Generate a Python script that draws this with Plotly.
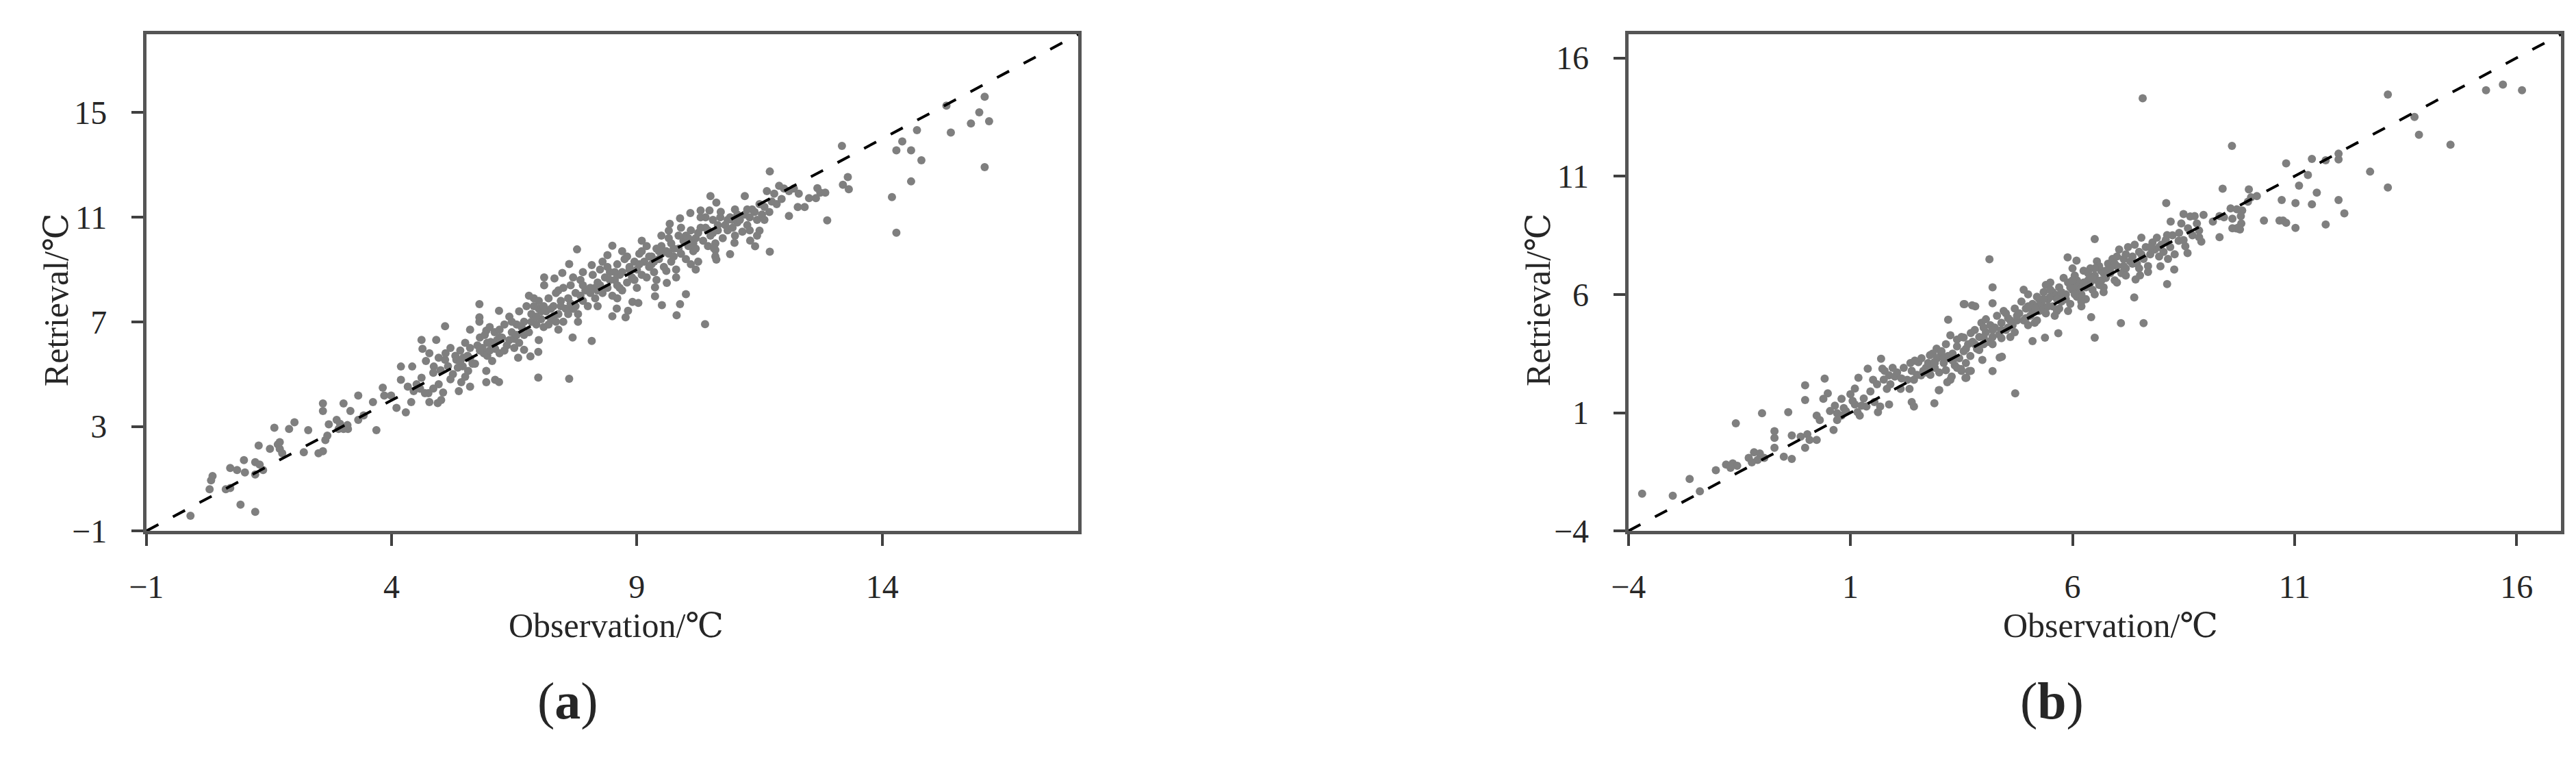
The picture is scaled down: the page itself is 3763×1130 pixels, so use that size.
import plotly.graph_objects as go

# ---------------- data ----------------
# Panel (a): observation vs retrieval, degC
a_low = [
    (-0.10, -0.42), (0.92, 0.01), (1.22, -0.27), (0.32, 0.94), (0.29, 0.60), (0.35, 1.10),
    (0.62, 0.60), (0.71, 0.64), (0.71, 1.41), (0.85, 1.33), (1.01, 1.24), (0.99, 1.71),
    (1.22, 1.63), (1.31, 1.54), (1.38, 1.33), (1.22, 1.16), (1.29, 2.27),
    (1.52, 2.14), (1.68, 2.31), (1.72, 2.14), (1.77, 1.97), (1.72, 2.40), (1.61, 2.95),
    (1.91, 2.90), (2.02, 3.16), (2.30, 2.86), (2.21, 2.01), (2.51, 1.97), (2.60, 2.05),
    (2.65, 2.48), (2.69, 2.65), (2.60, 3.88), (2.60, 3.59), (2.72, 3.08), (2.88, 3.25),
    (2.92, 2.90), (3.02, 2.90), (3.11, 2.90), (2.95, 3.10), (3.10, 3.05), (3.02, 3.88),
    (3.16, 3.59), (3.32, 4.18), (3.32, 3.25), (3.62, 3.93), (3.43, 3.42), (3.69, 2.86),
    (3.82, 4.48), (3.85, 4.18), (3.99, 4.18), (4.10, 3.71), (4.29, 3.54), (4.19, 5.29),
    (4.42, 5.29),
]
a_mid = [
    (4.19, 4.78), (4.33, 4.52), (4.51, 4.61), (4.61, 4.86), (4.75, 4.27), (4.40, 3.93),
    (4.77, 3.93), (4.96, 4.61), (5.01, 4.01), (4.68, 4.27), (4.58, 4.44), (4.45, 4.35),
    (4.85, 4.45), (5.05, 4.30), (4.61, 6.31), (4.63, 5.97), (4.91, 6.31), (4.77, 5.80),
    (4.96, 5.63), (5.09, 5.55), (4.86, 5.29), (4.70, 5.50), (4.85, 5.05), (5.00, 5.15),
    (5.09, 6.83), (5.32, 5.55), (5.46, 5.63), (5.56, 5.12), (5.42, 4.69), (5.37, 4.35),
    (5.60, 4.52), (5.25, 5.00), (5.50, 4.90), (5.35, 5.25), (5.79, 7.68), (5.79, 7.17),
    (5.79, 7.00), (5.60, 6.70), (5.93, 6.66), (6.02, 6.23), (6.11, 5.97), (5.88, 5.80),
    (5.93, 5.12), (5.93, 4.69), (6.11, 4.78), (5.75, 6.10), (5.70, 5.40), (6.05, 5.50),
    (6.19, 7.42), (4.94, 3.89), (6.19, 4.70), (5.10, 5.80), (5.15, 5.30), (5.20, 6.00),
    (5.30, 5.70), (5.40, 5.90), (5.45, 5.30), (5.50, 6.20), (5.55, 5.70), (5.60, 6.00),
    (5.65, 5.40), (5.20, 4.80), (5.80, 6.40), (5.85, 6.00), (5.90, 6.50), (5.95, 5.70),
    (6.00, 6.80), (6.05, 6.10), (6.10, 6.60), (6.15, 6.30), (6.20, 5.80), (5.95, 6.20),
    (5.40, 5.50), (5.60, 5.60), (5.80, 5.90), (6.00, 5.90), (6.20, 6.40), (6.40, 6.30),
]
a_band = [
    (6.25, 6.4), (6.30, 6.9), (6.35, 6.1), (6.40, 7.2), (6.45, 6.6), (6.50, 6.0),
    (6.55, 6.9), (6.60, 7.4), (6.30, 5.9), (6.50, 6.35), (6.20, 6.7), (6.60, 6.2),
    (6.70, 7.0), (6.75, 7.6), (6.80, 6.6), (6.85, 7.3), (6.90, 7.9), (6.95, 6.9),
    (7.00, 7.5), (7.05, 7.1), (6.70, 6.5), (6.90, 7.6), (7.10, 6.8), (6.80, 8.0), (7.00, 7.8),
    (7.15, 7.4), (7.20, 7.9), (7.25, 7.1), (7.30, 7.6), (7.35, 8.1), (7.40, 7.3),
    (7.45, 7.8), (7.50, 7.0), (7.55, 7.5), (7.20, 6.9), (7.40, 8.2), (7.30, 7.2),
    (7.60, 7.9), (7.65, 8.4), (7.70, 7.5), (7.75, 8.1), (7.80, 7.3), (7.85, 8.6),
    (7.90, 7.8), (7.95, 8.2), (8.00, 7.6), (7.70, 8.7), (7.90, 8.4), (7.60, 7.3),
    (8.05, 8.3), (8.10, 8.8), (8.15, 7.9), (8.20, 8.5), (8.25, 9.0), (8.30, 8.1),
    (8.35, 8.7), (8.40, 8.3), (8.45, 8.9), (8.50, 8.0), (8.20, 8.2), (8.40, 9.1),
    (8.55, 8.6), (8.60, 9.2), (8.65, 8.3), (8.70, 8.9), (8.75, 9.4), (8.80, 8.5),
    (8.85, 9.0), (8.90, 8.7), (8.95, 9.3), (8.60, 8.4), (8.80, 9.5), (8.70, 8.2),
    (9.00, 9.0), (9.05, 9.6), (9.10, 8.8), (9.15, 9.3), (9.20, 9.9), (9.25, 9.1),
    (9.30, 9.5), (9.35, 8.9), (9.40, 9.8), (9.10, 10.1), (9.20, 8.7), (9.30, 9.2),
    (9.45, 9.4), (9.50, 9.9), (9.55, 9.1), (9.60, 9.7), (9.65, 10.2), (9.70, 9.3),
    (9.75, 9.8), (9.80, 9.0), (9.85, 10.3), (9.50, 9.6), (9.70, 10.0), (9.60, 8.95),
    (9.90, 9.6), (9.95, 10.1), (10.00, 9.4), (10.05, 9.9), (10.10, 10.5), (10.15, 9.7),
    (10.20, 10.2), (10.25, 9.3), (10.30, 10.6), (10.00, 10.3), (10.20, 9.8), (10.10, 9.2),
    (10.35, 10.1), (10.40, 10.6), (10.45, 9.9), (10.50, 10.3), (10.55, 10.9), (10.60, 10.0),
    (10.65, 10.5), (10.70, 11.0), (10.75, 10.2), (10.80, 10.7), (10.40, 11.0), (10.60, 9.75),
    (10.85, 10.5), (10.90, 11.0), (10.95, 10.6), (11.00, 11.3), (11.05, 10.8), (11.10, 10.9),
    (11.15, 10.45), (11.20, 11.1), (11.25, 10.7), (11.30, 11.0), (11.35, 11.3), (11.40, 11.2),
    (11.45, 10.9), (11.50, 11.5), (11.55, 11.1), (11.60, 11.4), (11.65, 12.0), (11.70, 11.2),
    (11.75, 11.6), (11.80, 11.9), (11.85, 11.5), (11.90, 12.2), (11.95, 11.7), (11.60, 10.9),
    (11.30, 10.5), (11.45, 10.3), (11.00, 10.3),
]
a_core = [
    (6.45, 7.0), (6.65, 6.8), (6.85, 7.0), (7.05, 7.4), (7.25, 7.5), (7.45, 7.6),
    (7.65, 7.7), (7.85, 8.0), (8.05, 8.1), (8.25, 8.4), (8.45, 8.6), (8.65, 8.8),
    (8.85, 9.1), (9.05, 9.2), (9.25, 9.5), (9.45, 9.7), (9.65, 9.6), (9.85, 9.8),
    (10.05, 10.2), (10.25, 10.4), (10.45, 10.5), (10.65, 10.7), (10.85, 10.9), (11.05, 11.1),
    (11.25, 11.3), (6.55, 6.5), (6.95, 7.2), (7.35, 7.0), (7.75, 7.6), (8.15, 8.3),
    (8.55, 8.9), (8.95, 8.6), (9.35, 9.3), (9.75, 9.5), (10.15, 10.0), (10.55, 10.4),
    (10.95, 10.9), (7.10, 7.6), (7.50, 8.3), (7.90, 8.9), (8.30, 9.3), (8.70, 9.7),
    (9.10, 9.7), (9.50, 10.3), (9.90, 10.6), (10.30, 11.0), (7.00, 6.3), (7.40, 6.7),
    (7.80, 7.0), (8.20, 7.6), (8.60, 7.9), (9.00, 8.3), (9.40, 8.6), (9.80, 8.7),
    (10.20, 9.0), (10.60, 9.5),
]
a_spread = [
    (6.99, 4.87), (7.62, 4.82), (7.69, 6.40), (8.08, 6.27), (6.70, 5.93), (6.83, 5.68),
    (6.99, 5.85), (6.58, 5.63), (7.11, 8.70), (7.32, 8.66), (7.11, 8.40), (7.48, 8.87),
    (7.62, 9.21), (7.78, 9.77), (8.08, 9.17), (8.40, 9.55), (8.50, 9.91), (8.50, 7.21),
    (8.59, 7.51), (8.82, 7.42), (8.77, 7.17), (8.91, 7.76), (9.03, 7.72), (9.51, 7.64),
    (9.37, 7.98), (9.37, 8.32), (9.61, 8.49), (9.81, 7.25), (9.88, 7.68), (10.00, 8.06),
    (10.39, 6.91), (9.88, 10.96), (10.09, 11.16), (10.30, 11.26), (10.48, 11.26), (10.50, 11.81),
    (10.62, 11.56), (10.71, 11.21), (11.20, 11.81), (11.50, 10.49), (11.71, 9.68), (11.41, 9.89),
    (11.31, 10.11), (10.99, 10.02), (10.90, 9.59), (10.62, 9.38), (10.57, 9.81), (9.65, 10.49),
    (9.67, 10.75),
]
a_high = [
    (11.71, 12.75), (12.00, 12.10), (12.20, 12.10), (12.30, 11.90), (12.10, 12.00),
    (12.10, 11.05), (12.28, 11.39), (12.42, 11.39), (12.51, 11.73), (12.68, 12.11), (12.74, 11.94),
    (12.84, 11.94), (12.65, 11.73), (12.88, 10.88), (13.18, 13.73), (13.20, 12.24), (13.30, 12.54),
    (13.32, 12.07), (14.20, 11.77), (14.29, 10.41), (14.59, 12.37), (14.29, 13.56), (14.41, 13.90),
    (14.59, 13.56), (14.80, 13.18), (14.71, 14.33), (15.31, 15.27), (15.40, 14.24), (15.81, 14.59),
    (15.98, 15.01), (16.18, 14.67), (16.09, 15.61), (16.09, 12.92),
]

# Panel (b)
b_low = [
    (-3.69, -2.42), (-3.00, -2.51), (-2.62, -1.80), (-2.39, -2.32), (-2.03, -1.43),
    (-1.80, -1.19), (-1.65, -1.14), (-1.55, -1.24), (-1.70, -1.33), (-1.58, 0.55),
    (-1.29, -0.91), (-1.17, -0.67), (-1.04, -0.72), (-1.09, -1.00), (-0.94, -0.91), (-1.22, -1.10),
    (-0.99, 0.98), (-0.71, 0.22), (-0.71, -0.06), (-0.71, -0.48), (-0.50, -0.86), (-0.32, -0.95),
    (-0.40, 1.02), (-0.32, 0.04), (-0.12, -0.01), (0.03, 0.09), (0.08, -0.15), (-0.02, -0.48),
    (0.24, -0.15), (-0.02, 2.16), (-0.02, 1.54), (0.42, 2.44), (0.24, 0.88), (0.31, 0.69),
    (0.49, 1.82), (0.39, 1.59), (0.62, 0.27), (0.54, 1.07), (0.70, 0.98), (0.80, 0.88),
    (0.70, 0.69), (0.90, 1.07), (0.80, 1.59), (1.00, 1.78), (1.10, 1.35), (1.16, 1.02),
    (1.21, 0.88), (1.36, 1.26), (1.62, 1.02), (1.67, 1.26), (1.18, 2.48), (1.10, 2.02),
    (1.39, 2.86), (1.69, 3.28), (1.51, 2.39), (1.72, 2.86), (1.87, 2.58), (2.00, 2.53),
    (1.82, 2.01), (1.54, 1.45), (1.87, 1.35), (1.77, 2.77), (2.38, 1.45), (2.43, 1.26),
    (2.89, 1.40), (2.99, 1.95), (2.13, 2.01), (2.28, 2.39), (2.38, 2.77), (2.53, 3.14),
    (2.64, 2.77), (2.79, 2.86), (2.79, 3.43), (2.94, 3.71), (3.15, 3.90), (3.25, 4.27),
    (3.40, 4.09), (3.55, 4.18), (3.71, 4.37), (3.86, 3.81), (2.43, 2.39), (2.33, 2.01),
    (2.59, 2.58), (2.89, 3.14), (3.04, 3.52), (3.20, 4.93), (3.55, 5.59), (3.81, 5.50),
    (3.74, 5.54), (3.25, 2.39), (3.50, 2.77), (3.61, 2.48), (3.71, 2.77),
    (1.25, 1.3), (1.30, 1.6), (1.45, 1.9), (1.60, 2.2), (1.75, 2.4), (1.90, 2.2),
    (2.05, 2.7), (2.20, 2.9), (2.35, 3.1), (2.50, 2.6), (2.60, 3.3), (2.70, 2.9),
    (1.95, 2.9), (2.15, 2.45), (2.45, 3.2), (0.65, 1.3), (0.85, 1.2), (1.05, 1.5),
]
b_band = [
    (2.75, 3.1), (2.80, 2.6), (2.85, 3.5), (2.90, 2.9), (2.95, 3.3), (3.00, 2.7),
    (3.05, 3.6), (3.10, 3.1), (3.15, 2.8), (3.20, 3.4), (3.30, 3.5), (3.35, 3.0),
    (3.40, 3.8), (3.45, 3.3), (3.50, 4.2), (3.55, 3.6), (3.60, 3.1), (3.65, 3.9),
    (3.70, 3.4), (3.40, 2.9), (3.75, 4.0), (3.80, 4.5), (3.85, 3.7), (3.90, 4.2),
    (3.95, 4.8), (4.00, 3.9), (4.05, 4.4), (4.10, 4.0), (4.15, 4.7), (4.20, 4.2),
    (3.90, 3.65), (4.05, 4.95), (4.25, 4.6), (4.30, 5.1), (4.35, 4.3), (4.40, 4.8),
    (4.45, 5.3), (4.50, 4.5), (4.55, 5.0), (4.60, 4.2), (4.65, 4.7), (4.70, 5.4),
    (4.75, 4.9), (4.40, 4.15), (4.80, 5.2), (4.85, 5.7), (4.90, 4.9), (4.95, 5.4),
    (5.00, 6.0), (5.05, 5.1), (5.10, 5.6), (5.15, 4.8), (5.20, 5.9), (5.25, 5.3),
    (4.90, 6.2), (5.00, 4.7), (5.10, 5.3), (5.20, 5.5), (5.30, 5.6), (5.35, 6.1),
    (5.40, 5.2), (5.45, 5.8), (5.50, 6.5), (5.55, 5.5), (5.60, 6.0), (5.65, 5.3),
    (5.70, 6.3), (5.75, 5.7), (5.80, 6.7), (5.40, 6.4), (5.60, 5.1), (5.50, 5.9),
    (5.70, 5.9), (5.35, 5.4), (5.85, 6.0), (5.90, 6.5), (5.95, 5.6), (6.00, 6.2),
    (6.05, 6.8), (6.10, 5.9), (6.15, 6.4), (6.20, 5.5), (6.25, 7.0), (6.30, 6.3),
    (5.90, 5.3), (6.00, 7.1), (6.10, 6.6), (6.20, 6.0), (6.30, 5.8), (6.05, 6.35),
    (6.35, 6.6), (6.40, 7.1), (6.45, 6.2), (6.50, 6.8), (6.55, 7.4), (6.60, 6.4),
    (6.65, 7.0), (6.70, 6.1), (6.75, 6.7), (6.80, 7.3), (6.50, 6.0), (6.60, 7.2),
    (6.70, 6.9), (6.40, 6.5), (6.85, 6.9), (6.90, 7.5), (6.95, 6.6), (7.00, 7.2),
    (7.05, 7.9), (7.10, 6.9), (7.15, 7.5), (7.20, 7.1), (7.25, 8.0), (7.30, 7.4),
    (7.00, 6.5), (7.20, 7.7), (7.35, 7.6), (7.40, 8.1), (7.45, 7.3), (7.50, 7.8),
    (7.55, 8.4), (7.60, 7.5), (7.65, 8.0), (7.70, 7.2), (7.75, 7.7), (7.80, 8.2),
    (7.50, 7.1), (7.85, 7.9), (7.90, 8.4), (7.95, 7.6), (8.00, 8.1), (8.05, 7.8),
    (8.10, 8.3), (8.15, 7.5), (8.20, 8.0), (8.25, 8.5), (8.30, 7.7), (8.40, 8.6),
    (8.45, 9.0), (8.50, 8.3), (8.60, 8.8), (8.65, 9.3), (8.70, 8.5), (8.80, 9.0),
    (8.85, 8.7), (8.50, 9.4),
]
b_core = [
    (4.55, 4.6), (4.75, 5.1), (4.95, 5.0), (5.15, 5.4), (5.35, 5.8), (5.55, 6.1),
    (5.75, 6.1), (5.95, 6.3), (6.15, 6.2), (6.35, 6.9), (6.55, 6.6), (6.75, 7.0),
    (6.95, 7.3), (7.15, 7.2), (7.35, 7.3), (7.55, 7.7), (7.75, 8.0), (7.95, 8.0),
    (5.25, 5.8), (5.45, 5.5), (5.65, 5.8), (5.85, 5.8), (6.05, 6.0), (6.25, 6.5),
    (6.45, 6.7), (6.65, 6.6), (6.85, 7.1), (3.60, 3.7), (3.80, 3.9), (4.00, 4.2),
    (4.20, 4.5), (4.40, 4.5), (4.60, 4.9), (3.30, 3.2), (3.10, 3.3), (2.90, 3.1),
    (2.70, 2.7), (5.00, 5.5), (5.50, 6.2), (6.00, 6.6), (6.50, 7.1), (7.00, 7.6),
    (4.50, 5.2), (4.00, 4.6), (5.20, 4.9), (5.70, 5.4), (6.20, 5.7), (6.70, 6.3),
    (7.20, 6.8), (4.70, 4.4), (4.20, 3.9),
]
b_spread = [
    (4.13, 7.49), (4.20, 6.30), (4.20, 5.63), (3.57, 5.59), (6.50, 8.34), (5.89, 7.57),
    (6.09, 7.43), (8.13, 6.44), (7.39, 5.87), (7.09, 4.79), (7.60, 4.79), (6.42, 5.04),
    (6.50, 4.17), (5.68, 4.36), (5.38, 4.17), (5.10, 4.03), (4.71, 1.82), (3.97, 3.23),
    (4.20, 2.76), (4.36, 3.33), (4.41, 3.37), (3.49, 2.85), (3.67, 2.76), (3.59, 2.47),
    (3.28, 2.53), (3.18, 2.29), (3.00, 1.96), (8.11, 9.86), (8.21, 9.08), (9.38, 10.47),
    (9.59, 12.28), (7.58, 14.29), (9.69, 8.79), (9.77, 8.75), (9.82, 9.55), (9.79, 9.31),
    (9.56, 9.64), (9.41, 9.26), (9.31, 8.42), (8.90, 8.23), (8.85, 8.42), (8.75, 9.31),
    (8.95, 9.36), (9.16, 9.08), (9.31, 9.31), (8.59, 7.75), (8.54, 8.04), (8.39, 8.27),
    (8.13, 8.51), (8.29, 7.05), (7.98, 7.19), (7.70, 6.95), (7.52, 6.81), (7.42, 6.63),
]
b_high = [
    (10.31, 9.12), (10.66, 9.12), (9.97, 10.44), (10.02, 10.11), (10.15, 10.16), (9.95, 9.92),
    (10.71, 9.99), (11.02, 9.86), (11.39, 9.81), (11.99, 9.99), (12.12, 9.43), (10.74, 9.12),
    (10.81, 9.03), (11.02, 8.81), (11.70, 8.96), (9.60, 9.20), (9.70, 9.60), (9.80, 9.00),
    (9.60, 8.80), (9.75, 8.85), (10.81, 11.54), (11.39, 11.73), (11.70, 11.67), (11.99, 11.71),
    (11.99, 11.95), (11.30, 11.05), (11.10, 10.60), (11.50, 10.30), (12.70, 11.19), (13.10, 10.52),
    (13.10, 14.45), (13.70, 13.50), (13.80, 12.75), (14.51, 12.33), (15.31, 14.63), (15.69, 14.87),
    (16.12, 14.63),
]

range_a = [-1, 18]
ticks_ax = [-1, 4, 9, 14]
ticks_ay = [-1, 3, 7, 11, 15]
range_b = [-4, 17]
ticks_b = [-4, 1, 6, 11, 16]

x_title = "Observation/℃"
y_title = "Retrieval/℃"

# ---------------- figure ----------------
W, H = 3763, 1130
pts_a = a_low + a_mid + a_band + a_core + a_spread + a_high
pts_b = b_low + b_band + b_core + b_spread + b_high

FONT = "Liberation Serif, DejaVu Serif, serif"
DOT = "#7f7f7f"

fig = go.Figure()
fig.add_trace(go.Scatter(x=[p[0] for p in pts_a], y=[p[1] for p in pts_a], mode="markers",
                         marker=dict(color=DOT, size=12, line=dict(width=0)),
                         xaxis="x", yaxis="y", showlegend=False, hoverinfo="skip"))
fig.add_trace(go.Scatter(x=range_a, y=range_a, mode="lines",
                         line=dict(color="black", width=4, dash="20px,24px"),
                         xaxis="x", yaxis="y", showlegend=False, hoverinfo="skip"))
fig.add_trace(go.Scatter(x=[p[0] for p in pts_b], y=[p[1] for p in pts_b], mode="markers",
                         marker=dict(color=DOT, size=12, line=dict(width=0)),
                         xaxis="x2", yaxis="y2", showlegend=False, hoverinfo="skip"))
fig.add_trace(go.Scatter(x=range_b, y=range_b, mode="lines",
                         line=dict(color="black", width=4, dash="20px,24px"),
                         xaxis="x2", yaxis="y2", showlegend=False, hoverinfo="skip"))

common = dict(showgrid=False, zeroline=False, showline=True, mirror=True,
              linecolor="#555555", linewidth=5, ticks="outside", ticklen=17,
              tickwidth=4, tickcolor="#404040",
              tickfont=dict(family=FONT, size=48, color="#262626"))

ya0, ya1 = 1 - 786 / H, 1 - 43 / H
fig.update_layout(
    width=W, height=H, margin=dict(l=0, r=0, t=0, b=0),
    paper_bgcolor="white", plot_bgcolor="white", showlegend=False,
    xaxis=dict(domain=[181 / W, 1552 / W], range=range_a, tickvals=ticks_ax,
               anchor="y", ticklabelstandoff=18, **common),
    yaxis=dict(domain=[ya0, ya1], range=range_a, tickvals=ticks_ay,
               anchor="x", ticklabelstandoff=26, **common),
    xaxis2=dict(domain=[2361 / W, 3733 / W], range=range_b, tickvals=ticks_b,
                anchor="y2", ticklabelstandoff=18, **common),
    yaxis2=dict(domain=[ya0, ya1], range=range_b, tickvals=ticks_b,
                anchor="x2", ticklabelstandoff=26, **common),
)

def ann(text, xpx, ypx, size, angle=0):
    fig.add_annotation(text=text, x=xpx / W, y=1 - ypx / H, xref="paper", yref="paper",
                       xanchor="center", yanchor="middle", showarrow=False, textangle=angle,
                       font=dict(family=FONT, size=size, color="#262626"))

ann(y_title, 49, 440, 50, -90)
ann(x_title, 872, 927, 50)
ann("(<b>a</b>)", 801, 1040, 76)
ann(y_title, 2229, 440, 50, -90)
ann(x_title, 3070, 927, 50)
ann("(<b>b</b>)", 2984, 1040, 76)

fig.write_html("out.html")
